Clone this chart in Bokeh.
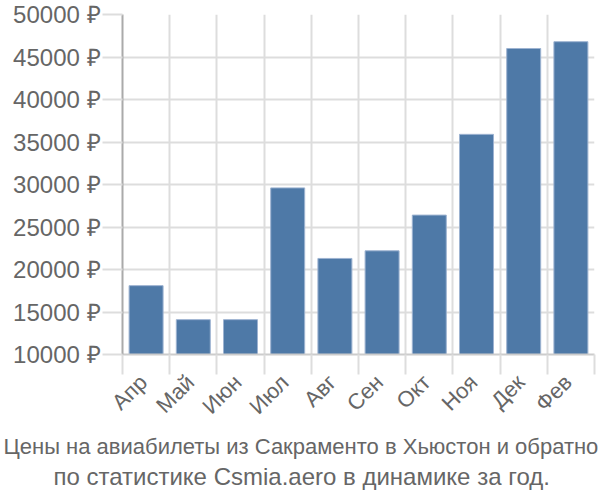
from bokeh.plotting import figure
from bokeh.models import FixedTicker, Range1d, Title, ColumnDataSource
from bokeh.embed import file_html
from bokeh.resources import INLINE
import math

months = ["Апр", "Май", "Июн", "Июл", "Авг", "Сен", "Окт", "Ноя", "Дек", "Фев"]
prices = [18100, 14100, 14100, 29600, 21300, 22200, 26400, 35900, 46000, 46800]
y_ticks = [10000, 15000, 20000, 25000, 30000, 35000, 40000, 45000, 50000]
title_lines = ["Цены на авиабилеты из Сакраменто в Хьюстон и обратно",
               "по статистике Csmia.aero в динамике за год."]

FONT = "Liberation Sans"
TXT = "#666666"
GRID = "#dddddd"

n = len(months)
centers = [i + 0.5 for i in range(n)]
label_pos = [c - 0.06 for c in centers]
bounds = list(range(n + 1))

p = figure(width=600, height=500, output_backend="svg", toolbar_location=None,
           x_range=Range1d(0, n), y_range=Range1d(10000, 50000),
           min_border_left=122, min_border_right=6, min_border_top=14,
           min_border_bottom=146)
p.outline_line_color = None
p.background_fill_color = "white"

src = ColumnDataSource(dict(x=centers, top=prices))
p.vbar(x="x", top="top", bottom=10000, width=0.72, source=src,
       fill_color="#4e79a7", line_color="#9db3d1", line_width=1)

# x axis
xa = p.xaxis[0]
xa.ticker = FixedTicker(ticks=label_pos, minor_ticks=bounds)
xa.major_label_overrides = {c: m for c, m in zip(label_pos, months)}
xa.major_label_orientation = math.pi / 4
xa.major_tick_line_color = None
xa.minor_tick_line_color = GRID
xa.minor_tick_line_width = 2
xa.minor_tick_out = 20
xa.minor_tick_in = 0
xa.axis_line_color = "#cccccc"
xa.axis_line_width = 2
xa.major_label_text_font = FONT
xa.major_label_text_font_size = "22px"
xa.major_label_text_color = TXT
xa.major_label_standoff = 4

# y axis
ya = p.yaxis[0]
ya.ticker = FixedTicker(ticks=y_ticks)
ya.major_label_overrides = {v: f"{v} ₽" for v in y_ticks}
ya.minor_tick_line_color = None
ya.major_tick_line_color = GRID
ya.major_tick_line_width = 2
ya.major_tick_out = 20
ya.major_tick_in = 0
ya.axis_line_color = "#aaaaaa"
ya.axis_line_width = 2
ya.major_label_text_font = FONT
ya.major_label_text_font_size = "24px"
ya.major_label_text_color = TXT
ya.major_label_standoff = 2

p.xgrid.ticker = FixedTicker(ticks=bounds)
p.xgrid.grid_line_color = GRID
p.xgrid.grid_line_width = 2
p.ygrid.ticker = FixedTicker(ticks=y_ticks)
p.ygrid.grid_line_color = GRID
p.ygrid.grid_line_width = 2

# left-aligned titles shifted from the frame's left edge (x=122)
for line, size, off in zip(title_lines, ["22px", "24px"], [-119, -69]):
    p.add_layout(Title(text=line, align="left", text_font=FONT,
                       text_font_size=size, text_font_style="normal",
                       text_color=TXT, standoff=2, offset=off), "below")

open("out.html", "w").write(file_html(p, INLINE))
